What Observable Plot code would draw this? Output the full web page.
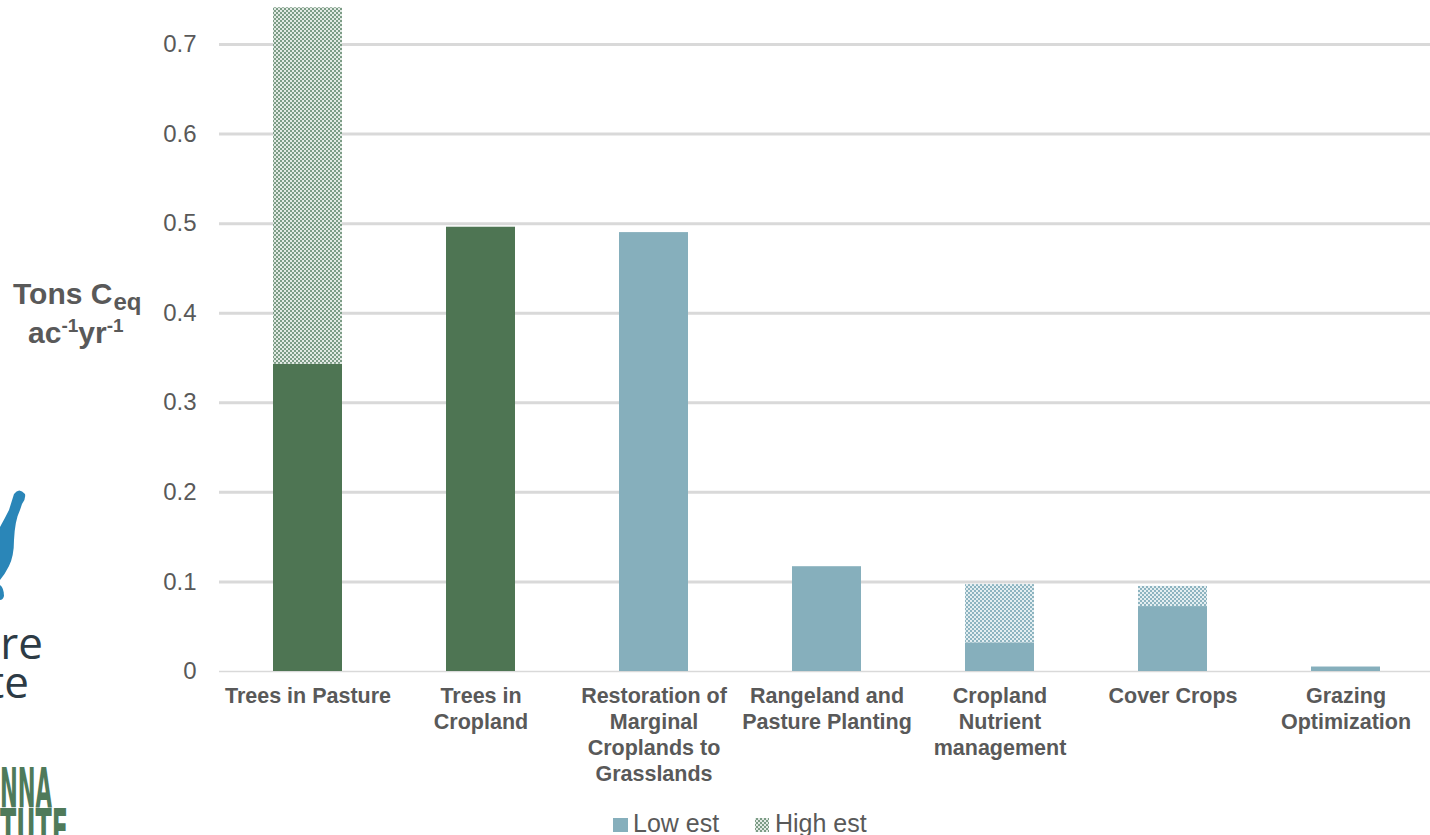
<!DOCTYPE html>
<html>
<head>
<meta charset="utf-8">
<script src="https://cdn.jsdelivr.net/npm/d3@7"></script>
<script src="https://cdn.jsdelivr.net/npm/@observablehq/plot@0.6"></script>
<style>
  html, body { margin: 0; padding: 0; background: #fff; }
  #wrap { position: relative; width: 1430px; height: 835px; overflow: hidden; font-family: "Liberation Sans", Arial, sans-serif; }
  #chart { position: absolute; left: 0; top: 0; }
  .overlay { position: absolute; left: 0; top: 0; pointer-events: none; }
  #legend { position: absolute; top: 806px; left: 0; width: 1430px; height: 29px; }
</style>
</head>
<body>
<div id="wrap">
  <svg width="0" height="0" style="position:absolute">
    <defs>
      <pattern id="hiGreen" width="4" height="4" patternUnits="userSpaceOnUse">
        <rect width="4" height="4" fill="#e2eae4"></rect>
        <rect x="0" y="0" width="2" height="2" fill="#7c9c86"></rect>
        <rect x="2" y="2" width="2" height="2" fill="#7c9c86"></rect>
      </pattern>
      <pattern id="hiBlue" width="4" height="4" patternUnits="userSpaceOnUse">
        <rect width="4" height="4" fill="#e4eef1"></rect>
        <rect x="0" y="0" width="2" height="2" fill="#8db4c0"></rect>
        <rect x="2" y="2" width="2" height="2" fill="#8db4c0"></rect>
      </pattern>
    </defs>
  </svg>
  <div id="chart"></div>
  <svg class="overlay" width="219" height="835">
    <!-- partial logo fragments at the left edge -->
    <path d="M14 494 Q19 487 25 494 Q26 499 22 504 L20 510 Q15 520 14 540 Q14 556 9 566 Q5 574 0 580 L0 527 Q5 518 9 510 Z" fill="#2a86b8"></path>
    <path d="M0 585 Q4 588 4 596 Q3 600 0 600 Z" fill="#2a86b8"></path>
    <text x="43" y="659" text-anchor="end" font-family="Open Sans" font-size="44" fill="#2d3b45">re</text>
    <text x="29" y="698" text-anchor="end" font-family="Open Sans" font-size="44" fill="#2d3b45">te</text>
    <text x="0" y="807" font-family="Liberation Sans Narrow, DejaVu Sans Condensed, sans-serif" font-weight="bold" font-size="56" fill="#4f7a5a" textLength="52" lengthAdjust="spacingAndGlyphs">NNA</text>
    <text x="0" y="848" font-family="Liberation Sans Narrow, DejaVu Sans Condensed, sans-serif" font-weight="bold" font-size="56" fill="#4f7a5a" textLength="68" lengthAdjust="spacingAndGlyphs">TUTE</text>
    <!-- y axis title -->
    <text x="13" y="304" text-anchor="start" font-family="Liberation Sans, Arial, sans-serif" font-weight="bold" font-size="30" fill="#595959">Tons C<tspan font-size="24" dy="6" dx="1">eq</tspan></text>
    <text x="28" y="343" text-anchor="start" font-family="Liberation Sans, Arial, sans-serif" font-weight="bold" font-size="30" fill="#595959">ac<tspan font-size="19" dy="-11">-1</tspan><tspan font-size="30" dy="11">yr</tspan><tspan font-size="19" dy="-11">-1</tspan></text>
  </svg>
  <div id="legend"></div>
</div>
<script>
// ---- data ----
const categories = [
  "Trees in Pasture",
  "Trees in\nCropland",
  "Restoration of\nMarginal\nCroplands to\nGrasslands",
  "Rangeland and\nPasture Planting",
  "Cropland\nNutrient\nmanagement",
  "Cover Crops",
  "Grazing\nOptimization"
];
const lowEst  = [0.343, 0.496, 0.490, 0.117, 0.032, 0.0725, 0.005];
const highEst = [0.741, null, null, null, 0.097, 0.095, null];
const groups  = ["trees", "trees", "grass", "grass", "grass", "grass", "grass"];
const yTicks  = [0, 0.1, 0.2, 0.3, 0.4, 0.5, 0.6, 0.7];
const seriesNames = ["Low est", "High est"];

const GREEN = "#4e7553", BLUE = "#86afbc", GRID = "#d9d9d9", TEXT = "#595959";

const rows = categories.map((c, i) => ({cat: c, low: lowEst[i], high: highEst[i], group: groups[i]}));
const highRows = rows.filter(d => d.high != null);

const chart = Plot.plot({
  width: 1430,
  height: 800,
  marginLeft: 219,
  marginRight: 0,
  marginTop: 44,
  marginBottom: 129,
  style: {fontFamily: "Liberation Sans, Arial, sans-serif", fontSize: "24px", color: TEXT, background: "transparent", overflow: "visible"},
  x: {domain: categories, range: [220, 1434], paddingInner: 0.6, paddingOuter: 0.3, axis: null},
  y: {domain: [0, 0.7], ticks: yTicks, tickSize: 0, tickPadding: 23, tickFormat: d => d === 0 ? "0" : d3.format(".1f")(d), label: null},
  marks: [
    Plot.ruleY(yTicks.filter(v => v > 0), {stroke: GRID, strokeWidth: 3}),
    Plot.ruleY([0], {stroke: GRID, strokeWidth: 1.5}),
    Plot.barY(rows, {x: "cat", y1: 0, y2: "low", fill: GREEN, filter: d => d.group === "trees"}),
    Plot.barY(rows, {x: "cat", y1: 0, y2: "low", fill: BLUE, filter: d => d.group !== "trees"}),
    Plot.barY(highRows, {x: "cat", y1: "low", y2: "high", fill: "url(#hiGreen)", filter: d => d.group === "trees"}),
    Plot.barY(highRows, {x: "cat", y1: "low", y2: "high", fill: "url(#hiBlue)", filter: d => d.group !== "trees"}),
    Plot.text(categories, {x: d => d, text: d => d, frameAnchor: "bottom", lineAnchor: "top", dy: 13, fontSize: 21.5, fontWeight: "bold", fill: TEXT, lineHeight: 1.21})
  ]
});
document.getElementById("chart").appendChild(chart);

// legend
const legend = document.getElementById("legend");
legend.innerHTML = `
<svg width="1430" height="29" style="font-family:Liberation Sans, Arial, sans-serif">
  <rect x="613" y="12" width="15" height="14" fill="${BLUE}"></rect>
  <text x="633" y="26" font-size="25" fill="${TEXT}">${seriesNames[0]}</text>
  <rect x="755" y="12" width="14" height="14" fill="url(#hiGreen)"></rect>
  <text x="775" y="26" font-size="25" fill="${TEXT}">${seriesNames[1]}</text>
</svg>`;
</script>
</body>
</html>
